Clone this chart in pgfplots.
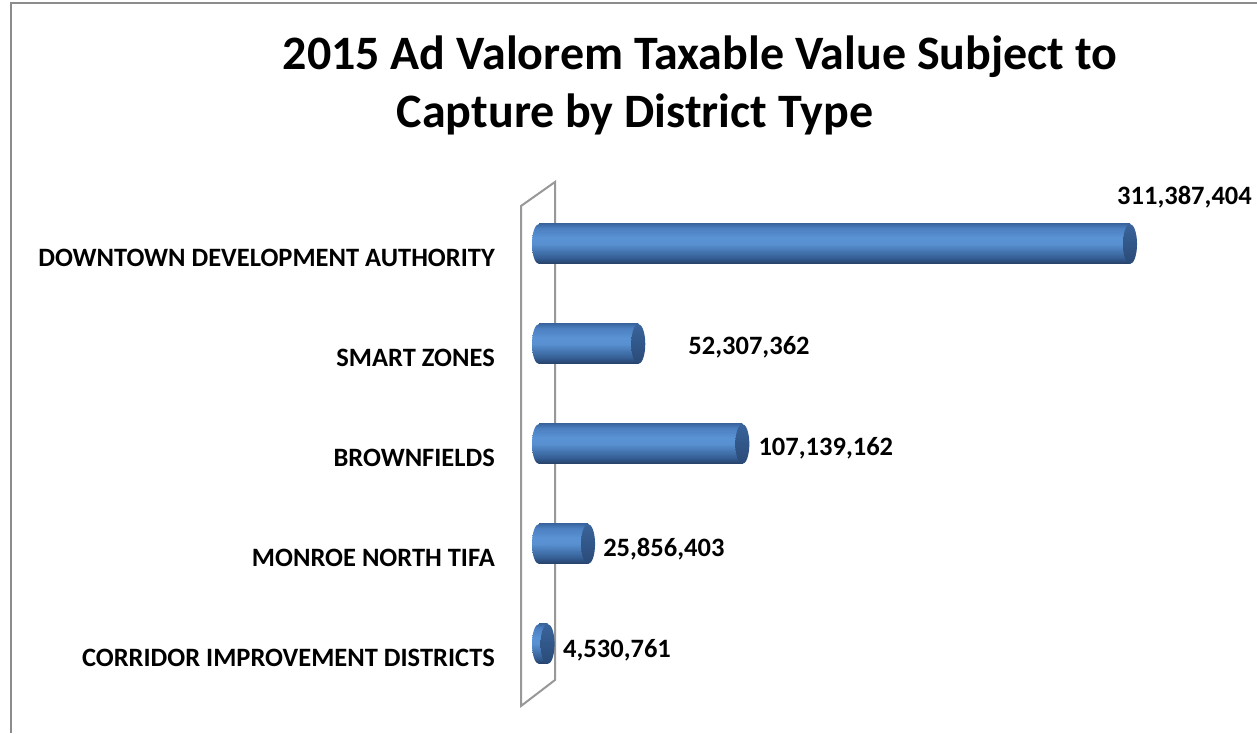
\documentclass[border=0pt]{standalone}
\usepackage{pgfplots}
\pgfplotsset{compat=1.18}
\usepackage{pgfplotstable}
\usepackage{fontspec}
\setmainfont{Carlito}

\definecolor{c0}{HTML}{263F66}
\definecolor{c1}{HTML}{345D93}
\definecolor{c2}{HTML}{5890D0}
\definecolor{c3}{HTML}{5A93D5}
\definecolor{c4}{HTML}{4B7FC0}
\definecolor{c5}{HTML}{3B68A3}
\definecolor{k0}{HTML}{294A77}
\definecolor{k1}{HTML}{3A649B}
\definecolor{framegray}{HTML}{8C8C8C}
\definecolor{wallgray}{HTML}{989898}

\pgfdeclareverticalshading{cyl}{100bp}{color(0bp)=(c0); color(25bp)=(c0); color(32.5bp)=(c1); color(50bp)=(c2); color(57.5bp)=(c3); color(70bp)=(c4); color(75bp)=(c5); color(100bp)=(c5)}
\pgfdeclareverticalshading{capsh}{100bp}{color(0bp)=(k0); color(25bp)=(k0); color(75bp)=(k1); color(100bp)=(k1)}

\pgfdeclareplotmark{lcap}{%
  \pgfpathellipse{\pgfpointorigin}{\pgfqpoint{7pt}{0pt}}{\pgfqpoint{0pt}{20pt}}%
  \pgfshadepath{cyl}{0}%
  \pgfusepath{}%
}
\pgfdeclareplotmark{rcap}{%
  \pgfpathellipse{\pgfpointorigin}{\pgfqpoint{7pt}{0pt}}{\pgfqpoint{0pt}{20pt}}%
  \pgfshadepath{capsh}{0}%
  \pgfusepath{}%
}

\pgfplotstableread{
y value dx dy label
4 311387404 -13 39.5 311,387,404
3 52307362 50 -11 52,307,362
2 107139162 16 -12 107,139,162
1 25856403 15 -13 25,856,403
0 4530761 15.4 -14 4,530,761
}\datatable

\begin{document}
\begin{tikzpicture}[x=1pt,y=1pt]
\path[use as bounding box] (0,0) rectangle (1257,733);
\draw[framegray, line width=2pt] (11,0) -- (11,730) -- (1257,730);
\draw[wallgray, line width=2pt] (521,27) -- (521,527) -- (555,551) -- (555,53) -- cycle;
\node[anchor=base, inner sep=0pt, font=\fontsize{48}{56}\selectfont\bfseries] at (700,663) {2015 Ad Valorem Taxable Value Subject to};
\node[anchor=base, inner sep=0pt, font=\fontsize{48}{56}\selectfont\bfseries] at (635,605) {Capture by District Type};
\begin{axis}[
  at={(539pt,39pt)}, anchor=south west, scale only axis,
  width=661pt, height=500pt,
  xmin=0, xmax=348260000, ymin=-0.5, ymax=4.5,
  axis line style={draw=none},
  xtick=\empty, scaled x ticks=false,
  ytick={0,1,2,3,4},
  yticklabels={CORRIDOR IMPROVEMENT DISTRICTS, MONROE NORTH TIFA, BROWNFIELDS, SMART ZONES, DOWNTOWN DEVELOPMENT AUTHORITY},
  major tick length=0pt,
  yticklabel style={anchor=base east, inner sep=0pt, xshift=-44pt, yshift=-22.5pt, font=\fontsize{26.5}{31}\selectfont\bfseries},
  clip=false,
]
\addplot[only marks, mark=lcap] table[x expr=0, y=y] \datatable;
\pgfplotsinvokeforeach{0,1,2,3,4}{
  \addplot[xbar, bar width=40pt, draw=none, shade, shading=cyl, restrict y to domain=#1:#1] table[x=value, y=y] \datatable;
}
\addplot[only marks, mark=rcap,
  point meta=explicit symbolic, nodes near coords,
  visualization depends on={\thisrow{dx}\as\dx},
  visualization depends on={\thisrow{dy}\as\dy},
  every node near coord/.style={anchor=base west, inner sep=0pt, xshift=\dx pt, yshift=\dy pt, text=black, font=\fontsize{26.5}{31}\selectfont\bfseries}]
  table[x=value, y=y, meta=label] \datatable;
\end{axis}
\end{tikzpicture}
\end{document}
